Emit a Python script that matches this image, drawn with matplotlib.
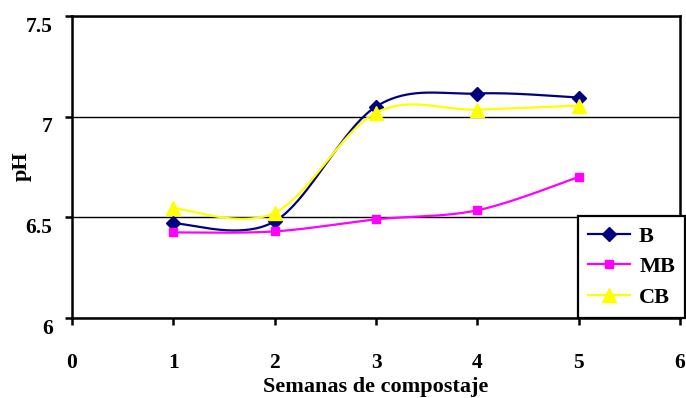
import numpy as np
import matplotlib
matplotlib.use("Agg")
import matplotlib.pyplot as plt
import matplotlib.transforms as mtransforms

# semanas y pH
semanas = [1, 2, 3, 4, 5]
ph_b = [6.47, 6.48, 7.05, 7.115, 7.095]
ph_mb = [6.425, 6.43, 6.49, 6.535, 6.70]
ph_cb = [6.545, 6.523, 7.02, 7.035, 7.055]
series_names = ["B", "MB", "CB"]


def excel_smooth(x, y, n=40):
    # curva suavizada tipo Excel (bezier catmull-rom)
    x = np.asarray(x, float)
    y = np.asarray(y, float)
    xs, ys = [], []
    for i in range(len(x) - 1):
        i0 = max(i - 1, 0)
        i3 = min(i + 2, len(x) - 1)
        c1x = x[i] + (x[i + 1] - x[i0]) / 6
        c1y = y[i] + (y[i + 1] - y[i0]) / 6
        c2x = x[i + 1] - (x[i3] - x[i]) / 6
        c2y = y[i + 1] - (y[i3] - y[i]) / 6
        t = np.linspace(0, 1, n, endpoint=False)
        a, b, c, d = (1 - t) ** 3, 3 * t * (1 - t) ** 2, 3 * t ** 2 * (1 - t), t ** 3
        xs.append(a * x[i] + b * c1x + c * c2x + d * x[i + 1])
        ys.append(a * y[i] + b * c1y + c * c2y + d * y[i + 1])
    xs.append([x[-1]])
    ys.append([y[-1]])
    return np.concatenate(xs), np.concatenate(ys), list(range(0, n * (len(x) - 1) + 1, n))


plt.rcParams["font.family"] = ["Liberation Serif", "DejaVu Serif"]
plt.rcParams["font.weight"] = "bold"

fig = plt.figure(figsize=(6.86, 3.98), dpi=100)
ax = fig.add_axes([72 / 686, 1 - 318 / 398, 608 / 686, 302 / 398])

styles = [
    dict(color="#000080", marker="D", markersize=7),
    dict(color="#FF00FF", marker="s", markersize=6),
    dict(color="#FFFF00", marker="^", markersize=10),
]
for vals, name, st in zip([ph_b, ph_mb, ph_cb], series_names, styles):
    sx, sy, idx = excel_smooth(semanas, vals)
    ax.plot(sx, sy, lw=1.6, markevery=idx, label=name, clip_on=False, **st)

ax.set_xlim(0, 6)
ax.set_ylim(6, 7.5)
ax.set_xticks(range(0, 7))
ax.set_yticks([6, 6.5, 7, 7.5])
ax.set_yticklabels(["6", "6.5", "7", "7.5"])
ax.yaxis.grid(True, color="black", lw=1.0)
ax.set_axisbelow(True)

for sp in ax.spines.values():
    sp.set_linewidth(1.8)
ax.tick_params(axis="both", direction="out", length=5, width=1.8, labelsize=15.5)
ax.tick_params(axis="x", pad=20)
ax.tick_params(axis="y", pad=9)

off = mtransforms.ScaledTranslation(0, -6 / 72, fig.dpi_scale_trans)
for lab in ax.get_yticklabels():
    lab.set_transform(lab.get_transform() + off)

fig.text(22 / 686, 1 - 166 / 398, "pH", rotation=90, ha="center", va="center",
         fontsize=16, fontweight="bold")
fig.text(376 / 686, 1 - 387 / 398, "Semanas de compostaje", ha="center", va="center",
         fontsize=16, fontweight="bold")

leg = fig.legend(loc="upper left", bbox_to_anchor=(578 / 686, 1 - 216 / 398),
                 frameon=True, fancybox=False, framealpha=1, fontsize=16,
                 handlelength=1.9, labelspacing=0.45, borderpad=0.45,
                 handletextpad=0.4, borderaxespad=0)
leg.get_frame().set_edgecolor("black")
leg.get_frame().set_linewidth(1.6)

fig.savefig("out.png", dpi=100)
